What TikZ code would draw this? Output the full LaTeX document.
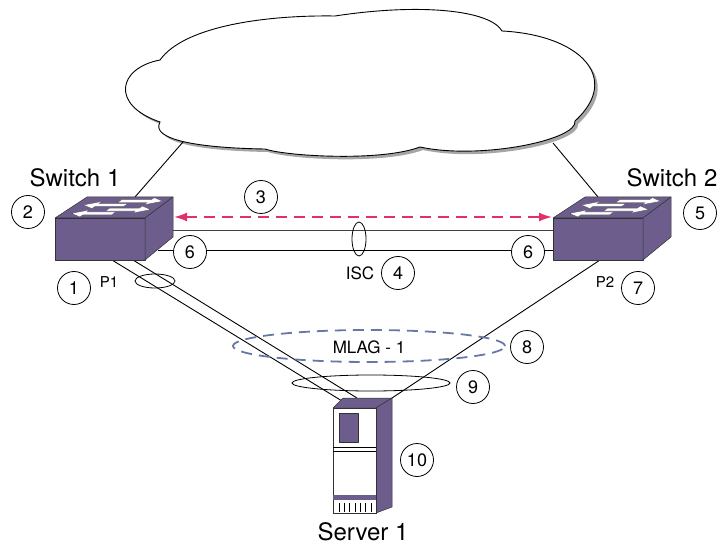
\documentclass[tikz,border=0pt]{standalone}
\usepackage{fontspec}
\setmainfont{TeX Gyre Heros}
\usetikzlibrary{arrows.meta}
\definecolor{devPurple}{HTML}{6C5D8C}
\definecolor{iscRed}{HTML}{E2306A}
\definecolor{mlagBlue}{HTML}{6878A6}
\tikzset{
  devface/.style={fill=devPurple, draw=black!80, line width=0.5pt, line join=round},
  arrowfill/.style={fill=white, draw=black!70, line width=0.3pt},
  num/.style={circle, draw, fill=white, line width=0.8pt, minimum size=33pt, inner sep=0pt,
    font=\fontsize{18}{18}\selectfont},
  title/.style={font=\fontsize{24}{24}\selectfont},
  lbl/.style={font=\fontsize{17}{17}\selectfont},
  port/.style={font=\fontsize{15}{15}\selectfont},
  link/.style={line width=0.9pt},
}
% white arrow on the top of a switch: from u=#1 to the tip at u=#2, depth #3
\newcommand{\portarrow}[3]{%
  \pgfmathsetmacro{\hb}{#2+0.15*sign(#1-#2)}%
  \filldraw[arrowfill] (#1,#3-0.07) -- (\hb,#3-0.07) -- (\hb,#3-0.17) -- (#2,#3)
    -- (\hb,#3+0.17) -- (\hb,#3+0.07) -- (#1,#3+0.07) -- cycle;}
% switch box, front-left corner at (#1,#2)
\newcommand{\switchicon}[2]{%
  \begin{scope}[shift={(#1,#2)}]
    \filldraw[devface] (0,0) rectangle (90,42);
    \filldraw[devface] (0,0) -- (32,-21) -- (118,-21) -- (90,0) -- cycle;
    \filldraw[devface] (90,0) -- (118,-21) -- (118,19) -- (90,42) -- cycle;
    \begin{scope}[x={(90pt,0pt)}, y={(30pt,21pt)}]
      \portarrow{0.58}{0.11}{0.22}
      \portarrow{0.45}{0.93}{0.40}
      \portarrow{0.58}{0.11}{0.62}
      \portarrow{0.45}{0.93}{0.80}
    \end{scope}
  \end{scope}}
\def\cloudpath{(160,60) .. controls (185,25) and (270,15) .. (335,16)
  .. controls (420,3) and (490,10) .. (502,31)
  .. controls (580,35) and (622,78) .. (575,121)
  .. controls (578,140) and (480,160) .. (420,147)
  .. controls (380,162) and (285,156) .. (265,149)
  .. controls (200,148) and (150,140) .. (160,122)
  .. controls (110,105) and (118,68) .. (160,60) -- cycle}

\begin{document}
\begin{tikzpicture}[x=1pt, y=-1pt, >={Latex[length=13pt,width=9pt]}]
\useasboundingbox (0,0) rectangle (720,545);
% ---------- cloud ----------
\fill[black!35, shift={(3,3)}] \cloudpath;
\filldraw[fill=white, draw=black, line width=0.9pt] \cloudpath;
\coordinate (cl1) at (183,142);
\coordinate (cl2) at (553,143);
% ---------- link end points ----------
\coordinate (s1top) at (135,197);
\coordinate (s2top) at (598,197);
\coordinate (s1a) at (112,260);
\coordinate (s1b) at (133,260);
\coordinate (s2a) at (600,260);
\coordinate (s1isc) at (173,230);
\coordinate (s2isc) at (553,230);
\coordinate (s1low) at (158,250);
\coordinate (s2low) at (553,250);
\coordinate (s1red) at (174,217);
\coordinate (s2red) at (552,217);
\coordinate (srva) at (342,401);
\coordinate (srvb) at (357,398);
\coordinate (srvc) at (386,402);
\draw[link] (cl1) -- (s1top);
\draw[link] (cl2) -- (s2top);
% ISC links
\draw[link, black!75] (s1isc) -- (s2isc);
\draw[link] (s1low) -- (s2low);
% server uplinks
\draw[link] (s1a) -- (srva);
\draw[link] (s1b) -- (srvb);
\draw[link] (s2a) -- (srvc);
% ---------- switches ----------
\switchicon{55}{218}
\switchicon{553}{218}
\draw[iscRed, line width=1.8pt, dash pattern=on 11pt off 7pt, <->] (s1red) -- (s2red);
% ---------- server ----------
\filldraw[devface] (333,408) -- (343,398) -- (392,398) -- (376,408) -- cycle;
\filldraw[devface] (376,408) -- (392,398) -- (392,507) -- (376,513) -- cycle;
\filldraw[fill=white, draw=black!80, line width=0.5pt] (333,408) rectangle (376,513);
\filldraw[devface] (339,413) rectangle (358,442);
\draw[line width=0.6pt] (333,447) -- (376,447);
\draw[line width=0.4pt] (333,451) -- (376,451);
\fill[devPurple] (333,495) rectangle (376,500);
\foreach \i in {0,...,6}
  \draw[line width=0.4pt] (339+5.3*\i,503) -- ++(0,9);
% ---------- bundles ----------
\draw[line width=0.8pt] (155,281) ellipse [x radius=20pt, y radius=7pt];
\draw[line width=0.8pt] (359,239) ellipse [x radius=7pt, y radius=17pt];
\draw[mlagBlue, line width=1.8pt, dash pattern=on 11pt off 7pt] (369,346) ellipse [x radius=136pt, y radius=16pt];
\draw[line width=0.8pt] (371,383) ellipse [x radius=79pt, y radius=8pt];
% ---------- labels ----------
\node[title] (sw1) at (75,178) {Switch 1};
\node[title] (sw2) at (672,178) {Switch 2};
\node[title] (srv) at (363,532) {Server 1};
\node[port] (p1) at (109,282) {P1};
\node[port] (p2) at (605,282) {P2};
\node[lbl] (isc) at (360,273) {ISC};
\node[lbl] (mlag) at (369,347) {MLAG - 1};
\node[num] (n1) at (74,288) {1};
\node[num] (n2) at (28,212) {2};
\node[num] (n3) at (261,197) {3};
\node[num] (n4) at (398,273) {4};
\node[num] (n5) at (700,213) {5};
\node[num] (n6a) at (190,252) {6};
\node[num] (n6b) at (528,252) {6};
\node[num] (n7) at (638,288) {7};
\node[num] (n8) at (527,347) {8};
\node[num] (n9) at (473,387) {9};
\node[num] (n10) at (417,460) {10};
\end{tikzpicture}
\end{document}
